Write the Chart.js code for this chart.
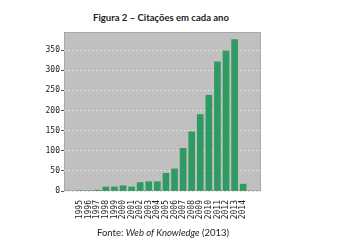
<!DOCTYPE html>
<html lang="pt">
<head>
<meta charset="UTF-8">
<title>Citações em cada ano</title>
<script src="https://cdn.jsdelivr.net/npm/chart.js"></script>
<style>
  body { margin: 0; background: #fff; }
  .wrap { position: relative; width: 364px; height: 242px; }
  .titulo { position: absolute; top: 12px; left: 0; width: 322px; text-align: center;
            font: bold 9.5px Lato, sans-serif; color: #222; }
  .fonte { position: absolute; top: 227px; left: 0; width: 326px; text-align: center;
           font: 9.5px Lato, sans-serif; color: #222; }
  canvas { position: absolute; left: 0; top: 0; }
</style>
</head>
<body>
<div class="wrap">
  <div class="titulo">Figura 2 – Citações em cada ano</div>
  <canvas id="grafico" width="364" height="242"></canvas>
  <div class="fonte">Fonte: <i>Web of Knowledge</i> (2013)</div>
</div>
<script>
  // anos (eixo x)
  const anos = [1995, 1996, 1997, 1998, 1999, 2000, 2001, 2002, 2003, 2004,
                2005, 2006, 2007, 2008, 2009, 2010, 2011, 2012, 2013, 2014];
  // citações por ano
  const citacoes = [0, 0, 2, 10, 10, 13, 10, 21, 23, 23,
                    44, 55, 106, 147, 190, 238, 321, 348, 376, 17];
  // marcas do eixo y
  const ticksY = [0, 50, 100, 150, 200, 250, 300, 350];

  // fundo cinza da area do grafico
  const fundo = {
    id: 'fundo',
    beforeDraw(chart) {
      const { ctx, chartArea: a } = chart;
      ctx.save();
      ctx.fillStyle = '#c0c0c0';
      ctx.fillRect(a.left, a.top, a.right - a.left, a.bottom - a.top);
      ctx.strokeStyle = '#a8a8a8';
      ctx.lineWidth = 1;
      ctx.strokeRect(a.left + 0.5, a.top + 0.5, a.right - a.left - 1, a.bottom - a.top - 1);
      ctx.restore();
    }
  };

  new Chart(document.getElementById('grafico'), {
    type: 'bar',
    data: {
      datasets: [{
        label: 'Citações',
        data: anos.map((a, i) => ({ x: a, y: citacoes[i] })),
        backgroundColor: '#2f9a62',
        barThickness: 6
      }]
    },
    options: {
      responsive: false,
      animation: false,
      layout: { padding: { left: 0, top: 32, right: 103, bottom: 0 } },
      plugins: { legend: { display: false }, tooltip: { enabled: false } },
      scales: {
        x: {
          type: 'linear',
          min: 1993.7,
          max: 2015.5,
          afterFit(s) { s.height = 51; },
          afterBuildTicks(s) { s.ticks = anos.map(v => ({ value: v })); },
          grid: { display: false },
          border: { display: false },
          ticks: {
            minRotation: 90, maxRotation: 90, padding: 1,
            autoSkip: false,
            color: '#222',
            font: { family: 'DejaVu Sans Mono', size: 8 },
            callback: v => String(v)
          }
        },
        y: {
          min: 0,
          max: 395,
          afterFit(s) { s.width = 64; },
          afterBuildTicks(s) { s.ticks = ticksY.map(v => ({ value: v })); },
          grid: {
            color: '#dedede',
            tickColor: '#555',
            tickLength: 3,
            lineWidth: 1
          },
          border: { display: false, dash: [2, 2] },
          ticks: {
            color: '#222',
            padding: 1,
            font: { family: 'DejaVu Sans Mono', size: 8 }
          }
        }
      }
    },
    plugins: [fundo]
  });
</script>
</body>
</html>
